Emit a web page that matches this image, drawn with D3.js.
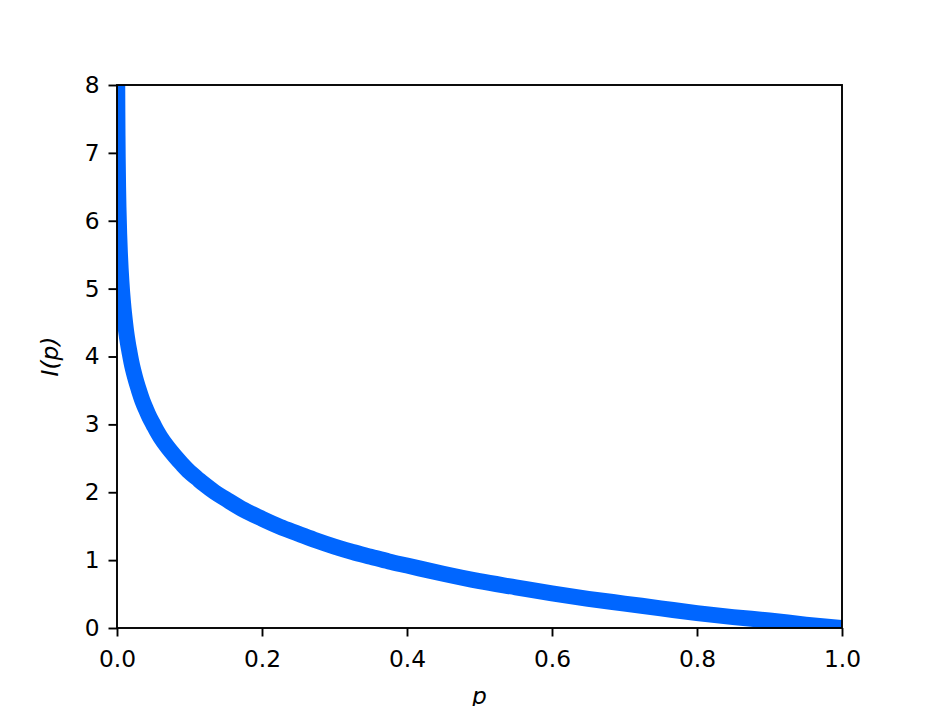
<!DOCTYPE html>
<html><head><meta charset="utf-8">
<script src="https://cdn.jsdelivr.net/npm/d3@7"></script>
<style>html,body{margin:0;padding:0;background:#fff;}svg{display:block;}</style>
</head><body>
<script>
const pValues = [0.0001,0.0002,0.0003,0.0004,0.0005,0.0007,0.001,0.0015,0.002,0.003,0.004,0.005,0.006,0.007,0.008,0.009,0.01,0.0125,0.015,0.0175,0.02,0.025,0.03,0.035,0.04,0.045,0.05,0.055,0.06,0.07,0.08,0.09,0.1,0.11,0.12,0.135,0.15,0.175,0.2,0.225,0.25,0.275,0.3,0.325,0.35,0.375,0.4,0.45,0.5,0.55,0.6,0.65,0.7,0.75,0.8,0.85,0.9,0.95,1.0];
const iValues = [9.21,8.52,8.11,7.82,7.60,7.26,6.91,6.50,6.21,5.81,5.52,5.30,5.12,4.96,4.83,4.71,4.61,4.38,4.20,4.05,3.91,3.69,3.51,3.35,3.22,3.10,3.00,2.90,2.81,2.66,2.53,2.41,2.30,2.21,2.12,2.00,1.90,1.74,1.61,1.49,1.39,1.29,1.20,1.12,1.05,0.98,0.92,0.80,0.69,0.60,0.51,0.43,0.36,0.29,0.22,0.16,0.11,0.05,0.0];
const xTicks = [0.0,0.2,0.4,0.6,0.8,1.0];
const yTicks = [0,1,2,3,4,5,6,7,8];

const W=936,H=706;
const L=117,R=842,T=85,B=628;
const FS=23.3;
const svg=d3.select("body").append("svg").attr("width",W).attr("height",H);
const x=d3.scaleLinear().domain([0,1]).range([L,R]);
const y=d3.scaleLinear().domain([0,8]).range([B,T]);

svg.append("defs").append("clipPath").attr("id","clip").append("rect")
  .attr("x",L).attr("y",T).attr("width",R-L).attr("height",B-T);

const data=pValues.map((p,i)=>({p,v:iValues[i]}));
svg.append("path").datum(data).attr("clip-path","url(#clip)")
  .attr("fill","none").attr("stroke","#0066ff").attr("stroke-width",16)
  .attr("stroke-linejoin","round")
  .attr("d",d3.line().x(d=>x(d.p)).y(d=>y(d.v)).curve(d3.curveMonotoneX));

const font="DejaVu Sans";
const xa=svg.append("g").attr("transform",`translate(0,${B})`)
  .call(d3.axisBottom(x).tickValues(xTicks).tickFormat(d3.format(".1f")).tickSizeOuter(0).tickSizeInner(8.5).tickPadding(13.5));
const ya=svg.append("g").attr("transform",`translate(${L},0)`)
  .call(d3.axisLeft(y).tickValues(yTicks).tickFormat(d3.format("d")).tickSizeOuter(0).tickSizeInner(8.5).tickPadding(9));
[xa,ya].forEach(a=>{
  a.select(".domain").remove();
  a.selectAll("line").attr("stroke","#000").attr("stroke-width",1.9);
  a.selectAll("text").attr("font-family",font).attr("font-size",FS).attr("fill","#000");
});
svg.append("rect").attr("x",L).attr("y",T).attr("width",R-L).attr("height",B-T)
  .attr("fill","none").attr("stroke","#000").attr("stroke-width",1.9);

svg.append("text").attr("x",(L+R)/2).attr("y",704).attr("text-anchor","middle")
  .attr("font-family",font).attr("font-size",FS).attr("font-style","italic").text("p");
svg.append("text").attr("transform",`translate(58,${(T+B)/2}) rotate(-90)`).attr("text-anchor","middle")
  .attr("font-family",font).attr("font-size",FS).attr("font-style","italic").text("I(p)");
</script>
</body></html>
